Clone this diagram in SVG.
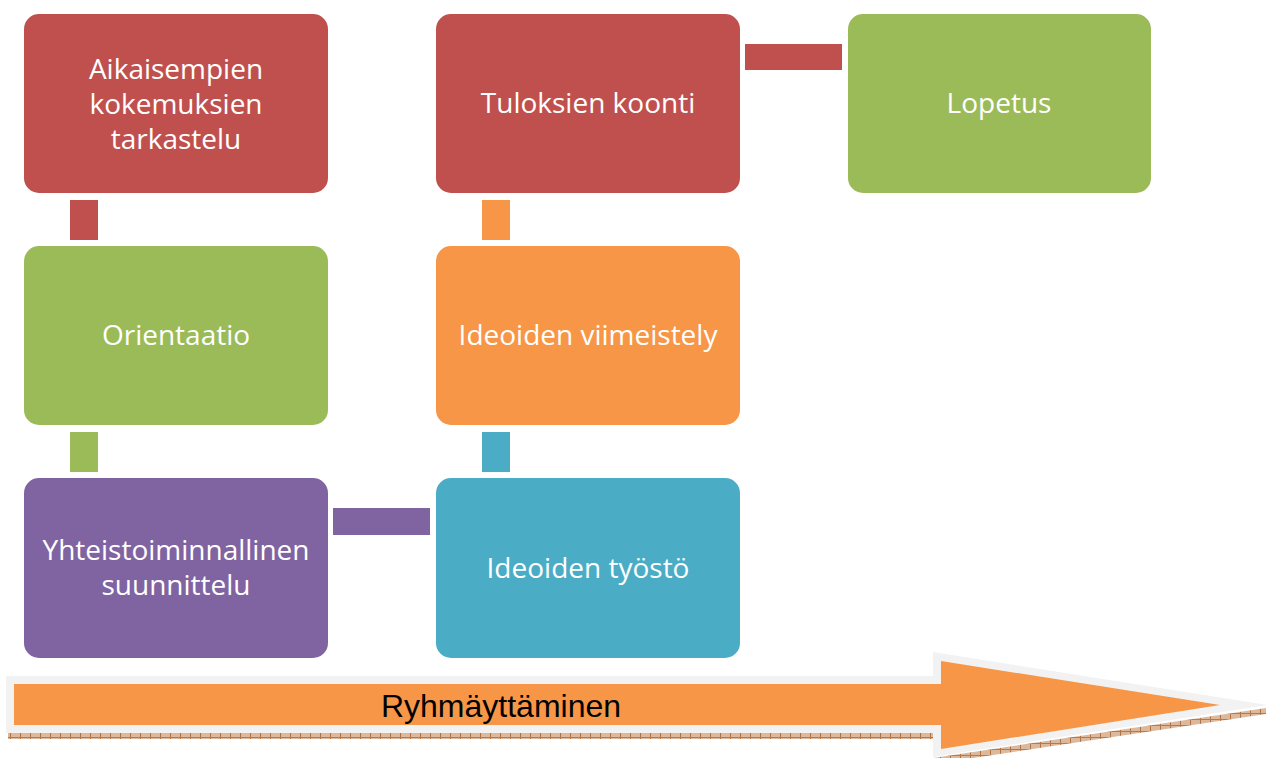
<svg xmlns="http://www.w3.org/2000/svg" width="1266" height="758" viewBox="0 0 1266 758">
<defs>
<style>
.t{font-family:"Open Sans","Liberation Sans",sans-serif;font-size:28px;fill:#ffffff;text-anchor:middle}
.red{fill:#c0504d}.green{fill:#9bbb59}.purple{fill:#8064a2}.blue{fill:#4bacc6}.orange{fill:#f79646}
</style>
<pattern id="tex" width="10" height="6" patternUnits="userSpaceOnUse">
<rect width="10" height="6" fill="#dcb89c"/>
<rect x="0" y="0" width="1" height="6" fill="#b0703f"/>
<rect x="0" y="5" width="10" height="1" fill="#b87a48"/>
</pattern>
</defs>
<rect width="1266" height="758" fill="#ffffff"/>
<g id="connectors">
<rect class="red" x="70" y="200" width="28" height="40"/>
<rect class="green" x="70" y="432" width="28" height="40"/>
<rect class="purple" x="333" y="508" width="97" height="27"/>
<rect class="blue" x="482" y="432" width="28" height="40"/>
<rect class="orange" x="482" y="200" width="28" height="40"/>
<rect class="red" x="745" y="44" width="97" height="26"/>
</g>
<g id="n1"><rect class="red" x="24" y="14" width="304" height="179" rx="15"/>
<text class="t" x="176" y="79">Aikaisempien</text><text class="t" x="176" y="114">kokemuksien</text><text class="t" x="176" y="149">tarkastelu</text></g>
<g id="n2"><rect class="green" x="24" y="246" width="304" height="179" rx="15"/>
<text class="t" x="176" y="345">Orientaatio</text></g>
<g id="n3"><rect class="purple" x="24" y="478" width="304" height="180" rx="15"/>
<text class="t" x="176" y="560">Yhteistoiminnallinen</text><text class="t" x="176" y="595">suunnittelu</text></g>
<g id="n4"><rect class="blue" x="436" y="478" width="304" height="180" rx="15"/>
<text class="t" x="588" y="578">Ideoiden työstö</text></g>
<g id="n5"><rect class="orange" x="436" y="246" width="304" height="179" rx="15"/>
<text class="t" x="588" y="345">Ideoiden viimeistely</text></g>
<g id="n6"><rect class="red" x="436" y="14" width="304" height="179" rx="15"/>
<text class="t" x="588" y="113">Tuloksien koonti</text></g>
<g id="n7"><rect class="green" x="848" y="14" width="303" height="179" rx="15"/>
<text class="t" x="999" y="113">Lopetus</text></g>
<g id="arrow">
<polygon points="8,733 933,733 933,758 1266,708 1266,714 933,764 933,739 8,739" fill="url(#tex)"/>
<polygon points="6,676 933,676 933,652 1267,705 933,757 933,733 6,733" fill="#f2f2f2"/>
<polygon points="14,684 941,684 941,661 1220,705 941,749 941,725 14,725" fill="#f79646"/>
<text x="501" y="717" font-family="'Liberation Sans',Arial,sans-serif" font-size="32" fill="#000000" text-anchor="middle">Ryhmäyttäminen</text>
</g>
</svg>
